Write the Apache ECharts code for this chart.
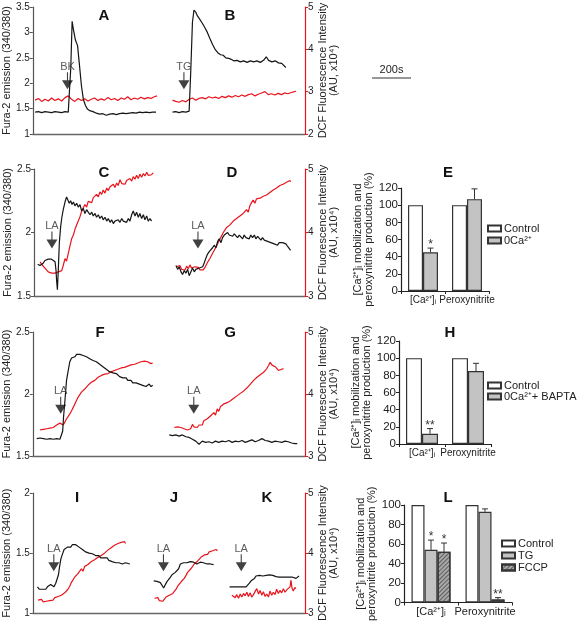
<!DOCTYPE html>
<html><head><meta charset="utf-8">
<script src="https://cdn.jsdelivr.net/npm/echarts@6/dist/echarts.min.js"></script>
<style>html,body{margin:0;padding:0;background:#fff}#c{width:577px;height:623px}</style>
</head><body><div id="c"></div>
<script>
// ---------------- DATA (time in s, Fura-2 ratio on left axis, DCF x10^4 AU on right axis) ----------------
const aFura = [[12,1.43],[29,1.44],[46,1.42],[63,1.44],[80,1.43],[97,1.42],[114,1.44],[132,1.43],[149,1.42],[166,1.44],[183,1.43],[191,1.45],[196,2.30],[203,3.22],[210,3.05],[220,2.85],[231,2.74],[241,2.35],[251,1.95],[261,1.68],[272,1.56],[282,1.49],[294,1.46],[311,1.44],[328,1.41],[345,1.39],[362,1.40],[379,1.37],[397,1.39],[414,1.40],[431,1.38],[448,1.40],[465,1.41],[482,1.40],[499,1.41],[516,1.42],[533,1.41],[550,1.43],[567,1.42],[584,1.43],[602,1.42],[619,1.43],[636,1.43]];
const aDcf = [[12,2.80],[29,2.84],[46,2.77],[63,2.82],[80,2.78],[97,2.85],[114,2.79],[132,2.83],[149,2.78],[166,2.86],[183,2.90],[200,2.82],[217,2.77],[234,2.84],[251,2.79],[268,2.83],[285,2.78],[302,2.82],[319,2.85],[336,2.79],[353,2.83],[370,2.80],[388,2.86],[405,2.81],[422,2.84],[439,2.79],[456,2.85],[473,2.82],[490,2.88],[507,2.81],[524,2.85],[541,2.82],[558,2.87],[576,2.83],[593,2.86],[610,2.84],[627,2.88],[641,2.90]];
const bFura = [[721,1.43],[738,1.44],[755,1.42],[772,1.44],[790,1.43],[807,1.45],[815,2.20],[824,3.20],[832,3.44],[841,3.40],[849,3.33],[863,3.25],[875,3.18],[887,3.10],[901,3.00],[914,2.88],[928,2.76],[942,2.66],[955,2.60],[969,2.56],[983,2.55],[996,2.50],[1010,2.49],[1024,2.47],[1037,2.44],[1054,2.45],[1071,2.42],[1089,2.44],[1106,2.41],[1123,2.44],[1140,2.42],[1157,2.44],[1174,2.41],[1191,2.45],[1205,2.52],[1217,2.45],[1234,2.42],[1251,2.44],[1268,2.40],[1285,2.39],[1306,2.31]];
const bDcf = [[721,2.80],[738,2.77],[755,2.75],[772,2.79],[790,2.76],[807,2.82],[824,2.85],[841,2.80],[858,2.84],[875,2.86],[892,2.83],[909,2.88],[926,2.85],[943,2.87],[960,2.84],[977,2.89],[994,2.86],[1011,2.90],[1028,2.87],[1045,2.91],[1062,2.88],[1079,2.92],[1096,2.89],[1113,2.93],[1130,2.95],[1147,2.90],[1164,2.94],[1181,2.97],[1198,3.00],[1215,2.93],[1232,2.95],[1249,2.92],[1266,2.96],[1283,2.93],[1300,2.97],[1317,2.95],[1334,2.98],[1351,3.00],[1359,3.01]];

const cFura = [[19,1.75],[31,1.74],[39,1.73],[48,1.76],[56,1.78],[65,1.77],[73,1.79],[82,1.78],[90,1.79],[99,1.80],[108,1.77],[113,1.70],[116,1.62],[120,1.55],[125,1.72],[130,1.92],[137,2.05],[143,2.12],[150,2.18],[159,2.24],[167,2.28],[174,2.27],[181,2.23],[188,2.25],[195,2.22],[202,2.24],[210,2.21],[219,2.23],[227,2.20],[236,2.22],[244,2.17],[253,2.19],[261,2.15],[270,2.18],[278,2.16],[287,2.14],[296,2.16],[304,2.13],[313,2.15],[321,2.12],[330,2.14],[338,2.11],[347,2.13],[355,2.10],[364,2.12],[373,2.09],[381,2.11],[390,2.08],[398,2.10],[407,2.07],[415,2.09],[424,2.08],[432,2.10],[441,2.08],[450,2.11],[458,2.09],[467,2.10],[475,2.08],[484,2.11],[492,2.09],[501,2.14],[509,2.17],[518,2.13],[526,2.16],[535,2.12],[543,2.15],[552,2.11],[561,2.14],[569,2.10],[578,2.13],[586,2.09],[595,2.11],[603,2.09]];
const cDcf = [[31,3.54],[39,3.50],[48,3.47],[56,3.44],[65,3.41],[73,3.38],[82,3.40],[90,3.36],[99,3.34],[108,3.36],[116,3.33],[125,3.38],[133,3.35],[142,3.40],[150,3.48],[159,3.59],[167,3.55],[176,3.67],[184,3.78],[193,3.90],[202,3.96],[210,4.05],[219,4.02],[227,4.18],[236,4.25],[244,4.33],[253,4.30],[261,4.44],[270,4.40],[278,4.49],[287,4.51],[296,4.47],[304,4.55],[313,4.52],[321,4.60],[330,4.56],[338,4.64],[347,4.60],[355,4.67],[364,4.62],[373,4.70],[381,4.66],[390,4.72],[398,4.69],[407,4.76],[415,4.71],[424,4.78],[432,4.74],[441,4.83],[450,4.77],[458,4.80],[467,4.76],[475,4.82],[484,4.79],[492,4.85],[501,4.81],[509,4.88],[518,4.84],[526,4.90],[535,4.85],[543,4.92],[552,4.87],[561,4.93],[569,4.89],[578,4.95],[586,4.90],[595,4.93],[603,4.91],[612,4.94]];
const dFura = [[728,1.74],[737,1.71],[745,1.73],[754,1.69],[762,1.67],[771,1.70],[779,1.68],[788,1.71],[796,1.66],[805,1.69],[813,1.72],[822,1.69],[830,1.71],[839,1.70],[848,1.72],[856,1.71],[865,1.73],[873,1.76],[882,1.80],[890,1.83],[899,1.85],[907,1.84],[916,1.88],[924,1.90],[933,1.88],[942,1.93],[950,1.95],[959,1.92],[967,1.96],[976,1.98],[984,1.97],[993,2.00],[1001,1.98],[1010,1.99],[1019,1.97],[1027,1.99],[1036,1.98],[1044,1.96],[1053,1.98],[1061,1.97],[1070,1.95],[1078,1.98],[1087,1.96],[1095,1.97],[1104,1.95],[1112,1.98],[1121,1.96],[1130,1.98],[1138,1.95],[1147,1.97],[1155,1.96],[1164,1.94],[1172,1.96],[1181,1.94],[1189,1.95],[1198,1.93],[1207,1.94],[1215,1.92],[1224,1.93],[1232,1.91],[1241,1.92],[1249,1.90],[1258,1.92],[1266,1.91],[1275,1.92],[1283,1.93],[1292,1.91],[1301,1.89],[1309,1.88],[1316,1.86]];
const dDcf = [[731,3.46],[740,3.43],[748,3.48],[757,3.42],[766,3.45],[774,3.41],[783,3.47],[791,3.43],[800,3.49],[808,3.44],[817,3.42],[825,3.46],[834,3.43],[843,3.45],[851,3.41],[860,3.44],[868,3.41],[877,3.45],[885,3.50],[894,3.55],[902,3.59],[911,3.62],[919,3.69],[928,3.72],[937,3.79],[945,3.82],[954,3.90],[962,3.93],[971,4.00],[979,3.98],[988,4.08],[997,4.06],[1005,4.12],[1013,4.10],[1022,4.18],[1030,4.15],[1039,4.22],[1048,4.20],[1056,4.26],[1065,4.24],[1073,4.30],[1082,4.28],[1090,4.36],[1099,4.32],[1107,4.42],[1116,4.47],[1124,4.51],[1133,4.46],[1141,4.53],[1150,4.50],[1159,4.54],[1167,4.52],[1176,4.57],[1184,4.55],[1193,4.59],[1201,4.57],[1210,4.63],[1219,4.60],[1227,4.67],[1236,4.64],[1244,4.70],[1253,4.68],[1261,4.74],[1270,4.71],[1278,4.76],[1287,4.74],[1295,4.79],[1304,4.77],[1313,4.82],[1316,4.80]];

const fFura = [[20,1.64],[38,1.645],[55,1.64],[72,1.635],[89,1.64],[106,1.635],[123,1.64],[140,1.635],[149,1.64],[154,1.70],[159,1.82],[166,1.95],[174,2.11],[183,2.19],[191,2.26],[200,2.29],[208,2.30],[217,2.30],[226,2.32],[234,2.33],[243,2.32],[251,2.315],[260,2.31],[268,2.30],[277,2.30],[285,2.29],[294,2.285],[302,2.28],[311,2.27],[320,2.265],[328,2.26],[337,2.25],[345,2.24],[354,2.23],[362,2.22],[371,2.21],[379,2.20],[388,2.19],[396,2.18],[405,2.175],[414,2.17],[422,2.16],[431,2.165],[439,2.15],[448,2.14],[456,2.145],[465,2.13],[473,2.12],[482,2.13],[490,2.11],[499,2.10],[507,2.11],[516,2.09],[525,2.08],[533,2.09],[542,2.10],[550,2.08],[559,2.09],[567,2.07],[576,2.08],[584,2.06],[593,2.05],[601,2.08],[610,2.06],[619,2.07]];
const fDcf = [[38,3.42],[46,3.44],[55,3.43],[63,3.45],[72,3.44],[80,3.46],[89,3.45],[97,3.47],[106,3.46],[114,3.48],[123,3.50],[132,3.51],[140,3.53],[149,3.52],[157,3.50],[166,3.55],[174,3.60],[183,3.64],[191,3.68],[200,3.73],[208,3.78],[217,3.84],[226,3.86],[234,3.95],[243,3.92],[251,4.03],[260,4.00],[268,4.08],[277,4.06],[285,4.14],[294,4.12],[302,4.19],[311,4.16],[320,4.22],[328,4.20],[337,4.27],[345,4.24],[354,4.30],[362,4.27],[371,4.32],[379,4.29],[388,4.33],[396,4.31],[405,4.36],[414,4.33],[422,4.38],[431,4.36],[439,4.40],[448,4.37],[456,4.42],[465,4.39],[473,4.43],[482,4.41],[490,4.45],[499,4.42],[507,4.47],[516,4.44],[525,4.48],[533,4.46],[542,4.50],[550,4.47],[559,4.52],[567,4.49],[576,4.53],[584,4.50],[593,4.52],[601,4.51],[610,4.49],[619,4.50]];
const gFura = [[704,1.67],[721,1.665],[738,1.67],[755,1.66],[772,1.67],[790,1.655],[807,1.65],[824,1.635],[841,1.62],[858,1.595],[866,1.61],[875,1.62],[892,1.61],[909,1.615],[926,1.605],[943,1.62],[960,1.61],[977,1.62],[995,1.615],[1012,1.625],[1029,1.61],[1046,1.62],[1063,1.615],[1080,1.625],[1097,1.61],[1114,1.62],[1131,1.63],[1148,1.615],[1165,1.625],[1183,1.64],[1191,1.645],[1200,1.625],[1217,1.62],[1234,1.61],[1251,1.62],[1268,1.615],[1285,1.61],[1302,1.62],[1319,1.615],[1336,1.605],[1353,1.60],[1365,1.60]];
const gDcf = [[730,3.46],[738,3.45],[747,3.47],[755,3.44],[764,3.46],[772,3.45],[781,3.44],[790,3.43],[798,3.42],[807,3.45],[815,3.44],[824,3.51],[832,3.47],[841,3.49],[849,3.46],[858,3.50],[866,3.52],[875,3.50],[883,3.57],[892,3.55],[901,3.60],[909,3.58],[918,3.65],[926,3.62],[935,3.70],[943,3.66],[952,3.76],[960,3.72],[969,3.80],[977,3.77],[986,3.84],[995,3.81],[1003,3.86],[1012,3.83],[1020,3.89],[1029,3.87],[1037,3.93],[1046,3.90],[1054,3.97],[1063,3.94],[1071,4.01],[1080,3.98],[1089,4.05],[1097,4.02],[1106,4.10],[1114,4.08],[1123,4.16],[1131,4.13],[1140,4.22],[1148,4.20],[1157,4.27],[1165,4.24],[1174,4.31],[1183,4.28],[1191,4.35],[1200,4.38],[1208,4.41],[1217,4.46],[1225,4.51],[1234,4.47],[1242,4.49],[1251,4.44],[1259,4.43],[1268,4.38],[1277,4.35],[1285,4.40],[1294,4.41]];

const iFura = [[24,1.22],[33,1.20],[41,1.19],[50,1.20],[58,1.21],[67,1.20],[75,1.22],[84,1.21],[92,1.24],[101,1.23],[109,1.22],[118,1.25],[127,1.26],[132,1.32],[137,1.38],[144,1.45],[152,1.49],[161,1.53],[169,1.54],[178,1.55],[186,1.56],[195,1.55],[203,1.57],[212,1.56],[221,1.57],[229,1.56],[238,1.55],[246,1.54],[255,1.53],[263,1.53],[272,1.51],[280,1.50],[289,1.50],[297,1.49],[306,1.495],[315,1.49],[323,1.48],[332,1.47],[340,1.48],[349,1.46],[357,1.47],[366,1.46],[374,1.45],[383,1.46],[391,1.44],[400,1.45],[408,1.43],[417,1.44],[426,1.42],[434,1.43],[443,1.42],[451,1.43],[460,1.41],[468,1.40],[477,1.42],[485,1.41],[499,1.41]];
const iDcf = [[27,3.22],[36,3.20],[45,3.23],[53,3.19],[62,3.21],[70,3.20],[79,3.23],[87,3.21],[96,3.24],[104,3.22],[113,3.26],[121,3.24],[130,3.28],[138,3.26],[147,3.30],[156,3.29],[164,3.34],[173,3.31],[181,3.40],[190,3.45],[198,3.51],[207,3.48],[215,3.60],[224,3.57],[232,3.66],[241,3.63],[250,3.74],[258,3.70],[267,3.78],[275,3.75],[284,3.81],[292,3.79],[301,3.86],[309,3.83],[318,3.89],[326,3.87],[335,3.93],[344,3.90],[352,3.96],[361,3.94],[369,4.00],[378,3.97],[386,4.05],[395,4.02],[403,4.09],[412,4.06],[420,4.13],[429,4.10],[438,4.16],[446,4.14],[455,4.18],[463,4.15],[472,4.19],[477,4.16]];
const jFura = [[622,1.27],[631,1.26],[639,1.265],[648,1.26],[656,1.255],[665,1.24],[673,1.21],[682,1.24],[691,1.265],[699,1.27],[708,1.30],[716,1.32],[725,1.33],[733,1.34],[742,1.35],[750,1.37],[759,1.41],[767,1.42],[776,1.42],[784,1.425],[793,1.42],[801,1.43],[810,1.43],[819,1.42],[827,1.425],[836,1.42],[844,1.41],[853,1.42],[861,1.425],[870,1.415],[878,1.42],[887,1.415],[896,1.41],[904,1.415],[913,1.41],[921,1.41],[930,1.405]];
const jDcf = [[626,3.25],[634,3.22],[643,3.26],[651,3.21],[660,3.24],[668,3.20],[677,3.23],[685,3.27],[694,3.25],[702,3.30],[711,3.28],[720,3.33],[728,3.36],[737,3.40],[745,3.45],[754,3.48],[762,3.52],[771,3.50],[779,3.58],[788,3.63],[796,3.68],[805,3.65],[813,3.74],[822,3.78],[830,3.82],[839,3.80],[848,3.87],[856,3.90],[865,3.93],[873,3.91],[882,3.97],[890,4.00],[899,3.98],[907,4.02],[916,4.00],[925,4.04],[933,4.02],[942,4.06],[950,4.04]];
const kFura = [[1012,1.22],[1020,1.215],[1029,1.22],[1037,1.21],[1046,1.22],[1054,1.215],[1063,1.22],[1072,1.215],[1080,1.22],[1089,1.23],[1097,1.22],[1106,1.235],[1114,1.25],[1123,1.27],[1131,1.28],[1140,1.29],[1148,1.31],[1157,1.32],[1166,1.315],[1174,1.32],[1183,1.31],[1191,1.32],[1200,1.315],[1208,1.31],[1217,1.32],[1225,1.31],[1234,1.315],[1243,1.31],[1251,1.305],[1260,1.31],[1268,1.30],[1277,1.305],[1285,1.30],[1294,1.31],[1302,1.30],[1311,1.305],[1320,1.30],[1328,1.29],[1337,1.30],[1345,1.285],[1354,1.29],[1362,1.30],[1369,1.31]];
const kDcf = [[1024,3.30],[1032,3.28],[1041,3.26],[1049,3.31],[1058,3.25],[1067,3.32],[1075,3.27],[1084,3.33],[1092,3.29],[1101,3.35],[1109,3.28],[1118,3.34],[1126,3.27],[1135,3.31],[1143,3.36],[1152,3.41],[1161,3.32],[1169,3.38],[1178,3.30],[1186,3.36],[1195,3.28],[1203,3.32],[1212,3.27],[1220,3.37],[1229,3.30],[1237,3.35],[1246,3.31],[1254,3.40],[1263,3.33],[1271,3.38],[1280,3.34],[1289,3.41],[1297,3.35],[1306,3.39],[1314,3.36],[1323,3.44],[1328,3.55],[1333,3.42],[1340,3.37],[1348,3.43],[1353,3.41]];

// drug addition times (s) and agent names
const addTimes = {A:179, B:780, C:92, D:841, F:144, G:831, I:108, J:672, K:1072};
const agents = {A:'BK', B:'TG', C:'LA', D:'LA', F:'LA', G:'LA', I:'LA', J:'LA', K:'LA'};
const scaleBarSeconds = 200;

// axis ranges per row
const furaRanges = [[1,3.5],[1.5,2.5],[1.5,2.5],[1,2]];
const dcfRanges = [[2,5],[3,5],[3,5],[3,5]];
const timeMax = [1405,1390,1405,1400];

// bar charts
const barCats = ['[Ca²⁺]ᵢ','Peroxynitrite'];
const eControl = [100,100];
const e0Ca = [45,107];
const e0CaErr = [5,12];
const e0CaStars = ['*',''];
const hControl = [100,100];
const hBapta = [12,85];
const hBaptaErr = [6,9];
const hBaptaStars = ['**',''];
const lControl = [100,100];
const lTG = [54,93];
const lTGErr = [10,3];
const lTGStars = ['*',''];
const lFCCP = [52,3];
const lFCCPErr = [9,2];
const lFCCPStars = ['*','**'];

// ---------------- CHART ----------------
const FONT = '"Liberation Sans", Arial, Helvetica, sans-serif';
const RED = '#e8141c';
const BLK = '#151515';
const chart = echarts.init(document.getElementById('c'), null, {width:577, height:623});

const traceGrids = [
  {left:31, top:7, width:274, height:127},
  {left:34, top:169, width:271, height:127},
  {left:31, top:332, width:274, height:124},
  {left:32, top:493, width:273, height:123}
];
const barGrids = [
  {left:401, top:188, width:88, height:103},
  {left:399, top:341, width:92, height:103},
  {left:404, top:505, width:108, height:100}
];
const furaGap = [13,16,13,14];
const arrowLevel = [2.05,1.94,1.91,1.42];

const grid = [], xAxis = [], yAxis = [], series = [];
traceGrids.forEach((g,i)=>{
  grid.push(Object.assign({containLabel:false}, g));
  xAxis.push({gridIndex:i, type:'value', min:0, max:timeMax[i], axisLine:{show:true, lineStyle:{color:'#666', width:1.3}},
    axisTick:{show:false}, axisLabel:{show:false}, splitLine:{show:false}});
  yAxis.push({gridIndex:i, type:'value', position:'left', min:furaRanges[i][0], max:furaRanges[i][1], interval:0.5,
    axisLine:{show:true, lineStyle:{color:'#555', width:1.2}}, axisTick:{show:true, length:3, lineStyle:{color:'#555'}},
    axisLabel:{fontSize:10, color:'#222', margin:3, fontFamily:FONT}, splitLine:{show:false},
    name:'Fura-2 emission (340/380)', nameLocation:'middle', nameRotate:90, nameGap:furaGap[i],
    nameTextStyle:{fontSize:11, color:'#222', fontFamily:FONT}});
  yAxis.push({gridIndex:i, type:'value', position:'right', min:dcfRanges[i][0], max:dcfRanges[i][1], interval:1,
    axisLine:{show:true, lineStyle:{color:RED, width:1.2}}, axisTick:{show:true, length:3, lineStyle:{color:RED}},
    axisLabel:{fontSize:10, color:'#222', margin:3, fontFamily:FONT}, splitLine:{show:false},
    name:'DCF Fluorescence Intensity\n(AU, x10⁴)', nameLocation:'middle', nameRotate:90, nameGap:12,
    nameTextStyle:{fontSize:11, color:'#222', fontFamily:FONT, lineHeight:11}});
});
barGrids.forEach((g,i)=>{
  grid.push(Object.assign({containLabel:false}, g));
  xAxis.push({gridIndex:4+i, type:'category', data:barCats, axisLine:{lineStyle:{color:'#222', width:1.2}},
    axisTick:{show:true, length:3, lineStyle:{color:'#222'}}, axisLabel:{fontSize:i===2?11:10, color:'#222', margin:4, fontFamily:FONT, interval:0},
    splitLine:{show:false}});
  yAxis.push({gridIndex:4+i, type:'value', min:0, max:i===2?100:120, interval:20,
    axisLine:{show:true, lineStyle:{color:'#222', width:1.2}}, axisTick:{show:true, length:3, lineStyle:{color:'#222'}},
    axisLabel:{fontSize:11.5, color:'#222', margin:3, fontFamily:FONT}, splitLine:{show:false},
    name:'[Ca²⁺]ᵢ mobilization and\nperoxynitrite production (%)', nameLocation:'middle', nameRotate:90,
    nameGap:[21,19,22][i], nameTextStyle:{fontSize:11, color:'#222', fontFamily:FONT, lineHeight:11}});
});

function trace(row, data, isDcf){
  series.push({type:'line', xAxisIndex:row, yAxisIndex:row*2+(isDcf?1:0), data:data, showSymbol:false, symbol:'none',
    lineStyle:{color:isDcf?RED:BLK, width:1.2}, itemStyle:{color:isDcf?RED:BLK}, silent:true, animation:false, z:isDcf?3:4});
}
trace(0,aDcf,true); trace(0,aFura,false); trace(0,bDcf,true); trace(0,bFura,false);
trace(1,cDcf,true); trace(1,cFura,false); trace(1,dDcf,true); trace(1,dFura,false);
trace(2,fDcf,true); trace(2,fFura,false); trace(2,gDcf,true); trace(2,gFura,false);
trace(3,iDcf,true); trace(3,iFura,false); trace(3,jDcf,true); trace(3,jFura,false); trace(3,kDcf,true); trace(3,kFura,false);

const ARROW = 'path://M5.4,0 L6.6,0 L6.6,8 L12,8 L6,17 L0,8 L5.4,8 Z';
const rowPanels = [['A','B'],['C','D'],['F','G'],['I','J','K']];
rowPanels.forEach((ps,row)=>{
  series.push({type:'scatter', xAxisIndex:row, yAxisIndex:row*2, symbol:ARROW, symbolSize:[11,17], silent:true, animation:false, z:6,
    itemStyle:{color:'#111'},
    data: ps.map(p=>({value:[addTimes[p], arrowLevel[row]], label:{show:true, formatter:agents[p]}})),
    label:{show:true, position:'top', distance:0, fontSize:11, color:'#333', fontFamily:FONT}});
});

// bars
const BORDER = {borderColor:'#333', borderWidth:1.2};
function bar(gi, name, data, color, w, extra){
  series.push({type:'bar', name:name, xAxisIndex:4+gi, yAxisIndex:8+gi, data:data, barWidth:w, barGap:'0%', animation:false,
    itemStyle:Object.assign({color:color}, BORDER, extra||{})});
}
function errs(gi, vals, errs, stars, offset){
  series.push({type:'custom', xAxisIndex:4+gi, yAxisIndex:8+gi, z:5, animation:false, silent:true,
    data: vals.map((v,i)=>[i, v, errs[i]]),
    renderItem:(p, api)=>{
      const i = api.value(0), v = api.value(1), e = api.value(2);
      const b = api.coord([i, v]); const t = api.coord([i, v+e]);
      const cx = b[0] + offset; const ch = [];
      if (e > 0) {
        ch.push({type:'line', shape:{x1:cx, y1:b[1], x2:cx, y2:t[1]}, style:{stroke:'#333', lineWidth:1}});
        ch.push({type:'line', shape:{x1:cx-3, y1:t[1], x2:cx+3, y2:t[1]}, style:{stroke:'#333', lineWidth:1}});
      }
      const s = stars[p.dataIndex];
      if (s) ch.push({type:'text', style:{text:s, x:cx, y:t[1]+3, align:'center', verticalAlign:'bottom', fontSize:12, fill:'#333', fontFamily:FONT}});
      return {type:'group', children:ch};
    }});
}
const HATCH = {decal:{symbol:'rect', symbolSize:1, dashArrayX:[[1,0]], dashArrayY:[1,2], rotation:-Math.PI/4, color:'rgba(70,70,70,0.75)'}};
bar(0,'Control',eControl,'#ffffff',15); bar(0,'0Ca²⁺',e0Ca,'#c3c3c3',15);
errs(0,e0Ca,e0CaErr,e0CaStars,7.5);
bar(1,'Control',hControl,'#ffffff',16); bar(1,'0Ca²⁺+ BAPTA',hBapta,'#c3c3c3',16);
errs(1,hBapta,hBaptaErr,hBaptaStars,8);
bar(2,'Control',lControl,'#ffffff',13); bar(2,'TG',lTG,'#c3c3c3',13); bar(2,'FCCP',lFCCP,'#a8a8a8',13,HATCH);
errs(2,lTG,lTGErr,lTGStars,0); errs(2,lFCCP,lFCCPErr,lFCCPStars,13);

const legBase = {orient:'vertical', icon:'rect', itemWidth:13, itemHeight:6, itemGap:1, selectedMode:false,
  textStyle:{fontSize:11, color:'#222', fontFamily:FONT, padding:[0,0,0,-2]}, padding:0};
const legend = [
  Object.assign({}, legBase, {data:['Control','0Ca²⁺'], left:487, top:223}),
  Object.assign({}, legBase, {data:['Control','0Ca²⁺+ BAPTA'], left:487, top:380, itemGap:0}),
  Object.assign({}, legBase, {data:['Control','TG','FCCP'], left:501, top:538})
];

// panel letters and scale bar
const letters = [['A',104,16],['B',230,16],['C',104,173],['D',232,173],['E',448,173],['F',100,333],['G',230,333],['H',450,333],['I',77,498],['J',174,498],['K',267,498],['L',448,498]];
const graphic = letters.map(l=>({type:'text', x:l[1], y:l[2], style:{text:l[0], align:'center', verticalAlign:'middle', fontSize:15, fontWeight:'bold', fill:'#111', fontFamily:FONT}}));
const barLen = scaleBarSeconds / timeMax[0] * traceGrids[0].width;
graphic.push({type:'line', shape:{x1:372, y1:78, x2:372+barLen, y2:78}, style:{stroke:'#333', lineWidth:1.2}});
graphic.push({type:'text', x:372+barLen/2, y:70, style:{text:scaleBarSeconds+'s', align:'center', verticalAlign:'middle', fontSize:11, fill:'#222', fontFamily:FONT}});

chart.setOption({animation:false, backgroundColor:'#fff', grid, xAxis, yAxis, series, legend, graphic});
</script></body></html>
